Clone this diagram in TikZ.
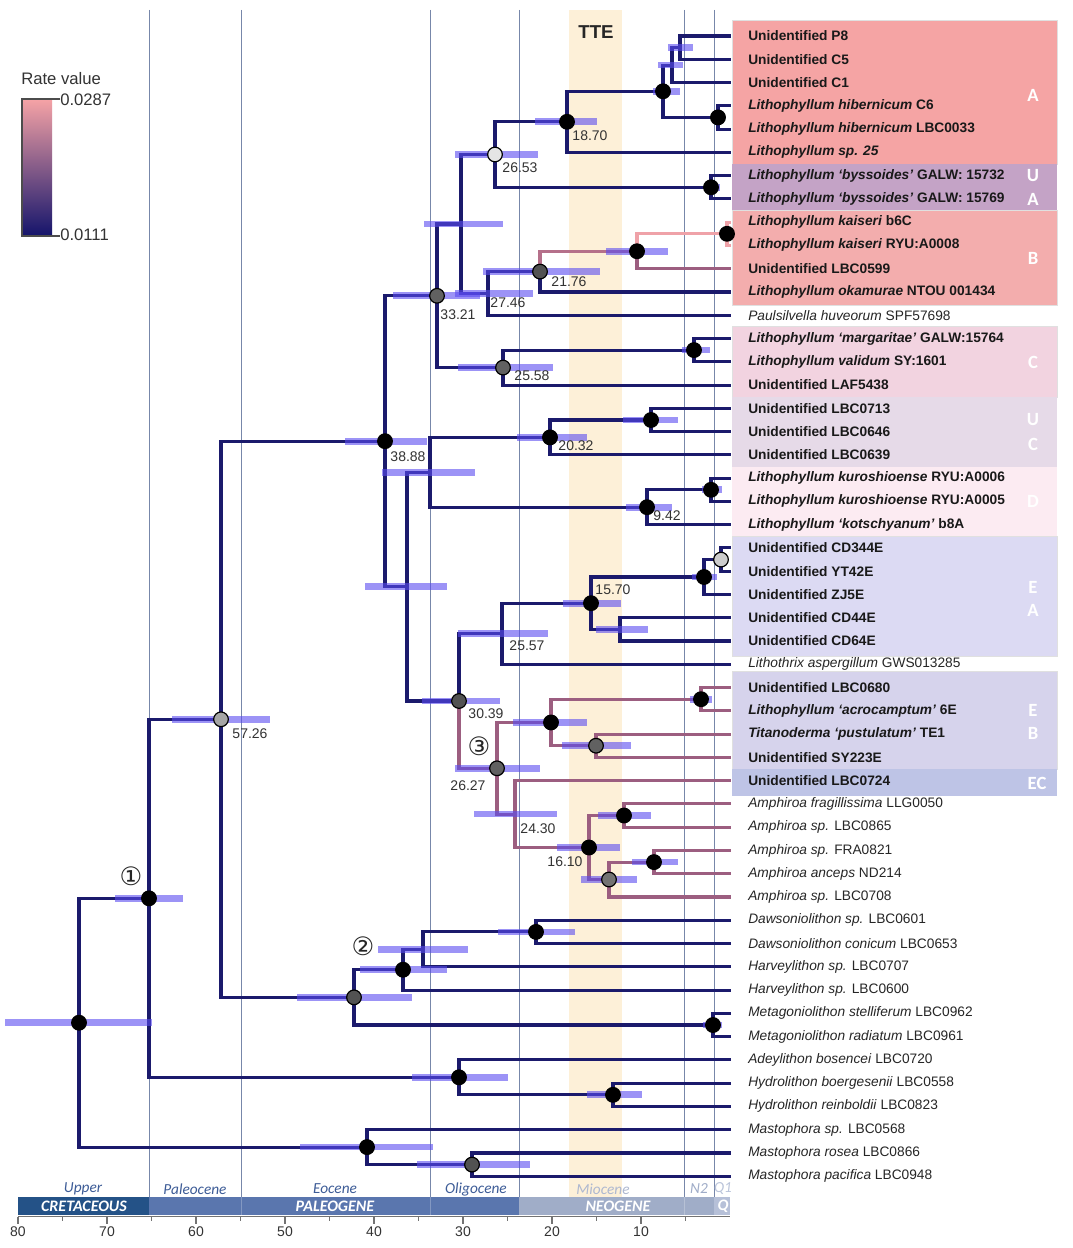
\documentclass[tikz,border=0pt]{standalone}
\usepackage{fontspec}
\setmainfont{Liberation Sans}
\newfontfamily\carl{Carlito}
\newfontfamily\dejavu{DejaVu Sans}
\definecolor{navy}{HTML}{1B1A6C}
\definecolor{mauve}{HTML}{9C5E80}
\definecolor{rosebr}{HTML}{B5708A}
\definecolor{pinkbr}{HTML}{EFA2A8}
\definecolor{hpdcol}{HTML}{5A4BF0}
\definecolor{boxA}{HTML}{F5A4A4}
\definecolor{boxUA}{HTML}{C4A3C6}
\definecolor{boxB}{HTML}{F3ADAD}
\definecolor{boxC}{HTML}{F2D3E0}
\definecolor{boxUC}{HTML}{E6DAE8}
\definecolor{boxD}{HTML}{FCEBF2}
\definecolor{boxEA}{HTML}{DCDAF3}
\definecolor{boxEB}{HTML}{D6D3EC}
\definecolor{boxEC}{HTML}{BEC4E6}
\definecolor{tte}{HTML}{FDF0D8}
\definecolor{epline}{HTML}{7787AA}
\definecolor{eptext}{HTML}{3D5C97}
\definecolor{cret}{HTML}{245287}
\definecolor{paleo}{HTML}{5A76AE}
\definecolor{neo}{HTML}{A0ADC8}
\definecolor{quat}{HTML}{B6C0D8}
\definecolor{gradtop}{HTML}{F6A3A6}
\definecolor{gradbot}{HTML}{14146B}
\newcommand\hpd[3]{\draw[hpdbar] (#2,0 |- #1) -- (#3,0 |- #1);}
\begin{document}
\begin{tikzpicture}[x=0.75pt,y=-0.75pt,
  br/.style={line width=2.3pt,draw=navy},
  brm/.style={line width=2.3pt,draw=mauve},
  brr/.style={line width=2.3pt,draw=rosebr},
  brp/.style={line width=2.3pt,draw=pinkbr},
  hpdbar/.style={line width=5pt,draw=hpdcol,draw opacity=0.6},
  nd/.style={circle,draw=black,line width=0.9pt,minimum size=11pt,inner sep=0pt,fill=#1},
  leafb/.style={anchor=west,inner sep=0pt,text=black!90,font=\bfseries\fontsize{10.3}{12}\selectfont},
  leafr/.style={anchor=west,inner sep=0pt,text=black!85,font=\fontsize{10.3}{12}\selectfont},
  agelab/.style={inner sep=0pt,text=black!80,font=\fontsize{10.5}{12}\selectfont},
  sidelab/.style={inner sep=0pt,text=white,font=\carl\bfseries\fontsize{14}{16}\selectfont},
  circnum/.style={inner sep=0pt,text=black!85,font=\dejavu\fontsize{19}{20}\selectfont},
  epochlab/.style={inner sep=0pt,font=\carl\itshape\fontsize{11.5}{12}\selectfont},
  perlab/.style={inner sep=0pt,text=white,font=\carl\bfseries\itshape\fontsize{12}{13}\selectfont},
  epl/.style={draw=epline,line width=0.7pt},
  boxfr/.style={draw=black!12,line width=0.4pt}
]
\useasboundingbox (0,0) rectangle (1072,1248);
\fill[white] (0,0) rectangle (1072,1248);

% TTE band and epoch lines
\fill[tte] (569,10) rectangle (622,1197);
\foreach \x in {149,241,430,519,684,714} \draw[epl] (\x,10) -- (\x,1197);
\node[inner sep=0pt,font=\bfseries\fontsize{14}{16}\selectfont,text=black!85] (ttelab) at (596,32) {TTE};

% clade boxes
\fill[boxA,boxfr] (732,20) rectangle (1057,164.5);
\fill[boxUA] (732,164.5) rectangle (1057,210.5);
\fill[boxB,boxfr] (732,210.5) rectangle (1057,305);
\fill[boxC,boxfr] (732,326) rectangle (1057,397);
\fill[boxUC] (732,397) rectangle (1057,466.5);
\fill[boxD] (732,466.5) rectangle (1057,536.5);
\fill[boxEA,boxfr] (732,536.5) rectangle (1057,656);
\fill[boxEB,boxfr] (732,671) rectangle (1057,769);
\fill[boxEC] (732,769) rectangle (1057,796);
\node[sidelab] (sA) at (1033,95) {A};
\node[sidelab] (sU1) at (1033,176) {U};
\node[sidelab] (sA2) at (1033,199) {A};
\node[sidelab] (sB) at (1033,258) {B};
\node[sidelab] (sC) at (1033,362) {C};
\node[sidelab] (sU2) at (1033,420) {U};
\node[sidelab] (sC2) at (1033,444) {C};
\node[sidelab] (sD) at (1033,501) {D};
\node[sidelab] (sE1) at (1033,587) {E};
\node[sidelab] (sA3) at (1033,610) {A};
\node[sidelab] (sE2) at (1033,710) {E};
\node[sidelab] (sB2) at (1033,733) {B};
\node[sidelab] (sEC) at (1037,783) {EC};

% tips
\foreach \i in {0,...,49} \coordinate (t\i) at (731,36+23.27*\i);

% internal nodes
\coordinate (a1) at (680,47.6);
\coordinate (a2) at (672,65.1);
\coordinate (a3) at (718,117.4);
\coordinate (a4) at (663,91.3);
\coordinate (a5) at (567,121.8);
\coordinate (a6) at (711,187.3);
\coordinate (a7) at (495,154.5);
\coordinate (b1) at (727,233.8);
\coordinate (b2) at (637,251.25);
\coordinate (b3) at (540,271.6);
\coordinate (b4) at (488,293.4);
\coordinate (b5) at (461,224);
\coordinate (c1) at (694,350.1);
\coordinate (c2) at (503,367.6);
\coordinate (c3) at (437,295.8);
\coordinate (d1) at (651,420);
\coordinate (d2) at (550,437.4);
\coordinate (d3) at (711,489.8);
\coordinate (d4) at (647,507.2);
\coordinate (d5) at (430,472.3);
\coordinate (d6) at (407,586.6);
\coordinate (h0) at (385,441.2);
\coordinate (e1) at (721,559.6);
\coordinate (e2) at (704,577);
\coordinate (e3) at (620,629.4);
\coordinate (e4) at (591,603.2);
\coordinate (e5) at (502,633.7);
\coordinate (f1) at (701,699.2);
\coordinate (f2) at (596,745.7);
\coordinate (f3) at (551,722.45);
\coordinate (g1) at (624,815.5);
\coordinate (g2) at (654,862.1);
\coordinate (g3) at (609,879.5);
\coordinate (g4) at (589,847.5);
\coordinate (g5) at (515,814.1);
\coordinate (f4) at (497,768.3);
\coordinate (f5) at (459,701);
\coordinate (i1) at (536,931.9);
\coordinate (i2) at (423,949.35);
\coordinate (i3) at (403,969.7);
\coordinate (i4) at (713,1025);
\coordinate (i5) at (354,997.35);
\coordinate (j0) at (221,719.3);
\coordinate (k1) at (613,1094.8);
\coordinate (k2) at (459,1077.3);
\coordinate (n1) at (149,898.3);
\coordinate (m1) at (472,1164.6);
\coordinate (m2) at (367,1147.1);
\coordinate (root) at (79,1022.7);

% navy branches
\draw[br] (a1) |- (t0);  \draw[br] (a1) |- (t1);
\draw[br] (a2) |- (a1);  \draw[br] (a2) |- (t2);
\draw[br] (a3) |- (t3);  \draw[br] (a3) |- (t4);
\draw[br] (a4) |- (a2);  \draw[br] (a4) |- (a3);
\draw[br] (a5) |- (a4);  \draw[br] (a5) |- (t5);
\draw[br] (a6) |- (t6);  \draw[br] (a6) |- (t7);
\draw[br] (a7) |- (a5);  \draw[br] (a7) |- (a6);
\draw[br] (b5) |- (a7);  \draw[br] (b5) |- (b4);
\draw[br] (b4) |- (b3);  \draw[br] (b4) |- (t12);
\draw[br] (b3) |- (t11);
\draw[brr] (b3) |- (b2);
\draw[brp] (b2) |- (b1);
\draw[brm] (b2) |- (t10);
\draw[brp] (b1) |- (t8); \draw[brp] (b1) |- (t9);
\draw[br] (c3) |- (b5);  \draw[br] (c3) |- (c2);
\draw[br] (c2) |- (c1);  \draw[br] (c2) |- (t15);
\draw[br] (c1) |- (t13); \draw[br] (c1) |- (t14);
\draw[br] (h0) |- (c3);  \draw[br] (h0) |- (d6);
\draw[br] (d6) |- (d5);  \draw[br] (d6) |- (f5);
\draw[br] (d5) |- (d2);  \draw[br] (d5) |- (d4);
\draw[br] (d2) |- (d1);  \draw[br] (d2) |- (t18);
\draw[br] (d1) |- (t16); \draw[br] (d1) |- (t17);
\draw[br] (d4) |- (d3);  \draw[br] (d4) |- (t21);
\draw[br] (d3) |- (t19); \draw[br] (d3) |- (t20);
\draw[br] (f5) |- (e5);
\draw[br] (e5) |- (e4);  \draw[br] (e5) |- (t27);
\draw[br] (e4) |- (e2);  \draw[br] (e4) |- (e3);
\draw[br] (e2) |- (e1);  \draw[br] (e2) |- (t24);
\draw[br] (e1) |- (t22); \draw[br] (e1) |- (t23);
\draw[br] (e3) |- (t25); \draw[br] (e3) |- (t26);
% mauve clade
\draw[brm] (f5) |- (f4);
\draw[brm] (f4) |- (f3);  \draw[brm] (f4) |- (g5);
\draw[brm] (f3) |- (f1);  \draw[brm] (f3) |- (f2);
\draw[brm] (f1) |- (t28); \draw[brm] (f1) |- (t29);
\draw[brm] (f2) |- (t30); \draw[brm] (f2) |- (t31);
\draw[brm] (g5) |- (t32); \draw[brm] (g5) |- (g4);
\draw[brm] (g4) |- (g1);  \draw[brm] (g4) |- (g3);
\draw[brm] (g1) |- (t33); \draw[brm] (g1) |- (t34);
\draw[brm] (g3) |- (g2);  \draw[brm] (g3) |- (t37);
\draw[brm] (g2) |- (t35); \draw[brm] (g2) |- (t36);
% lower part
\draw[br] (j0) |- (h0);  \draw[br] (j0) |- (i5);
\draw[br] (i5) |- (i3);  \draw[br] (i5) |- (i4);
\draw[br] (i3) |- (i2);  \draw[br] (i3) |- (t41);
\draw[br] (i2) |- (i1);  \draw[br] (i2) |- (t40);
\draw[br] (i1) |- (t38); \draw[br] (i1) |- (t39);
\draw[br] (i4) |- (t42); \draw[br] (i4) |- (t43);
\draw[br] (n1) |- (j0);  \draw[br] (n1) |- (k2);
\draw[br] (k2) |- (t44); \draw[br] (k2) |- (k1);
\draw[br] (k1) |- (t45); \draw[br] (k1) |- (t46);
\draw[br] (root) |- (n1); \draw[br] (root) |- (m2);
\draw[br] (m2) |- (t47); \draw[br] (m2) |- (m1);
\draw[br] (m1) |- (t48); \draw[br] (m1) |- (t49);

% HPD bars
\hpd{root}{5}{152}
\hpd{n1}{115}{183}
\hpd{j0}{172}{270}
\hpd{h0}{345}{427}
\hpd{c3}{393}{480}
\hpd{b5}{424}{503}
\hpd{a7}{455}{538}
\hpd{a5}{535}{597}
\hpd{a4}{653}{680}
\hpd{a2}{658}{683}
\hpd{a1}{668}{693}
\hpd{a6}{704}{720}
\hpd{b4}{455}{533}
\hpd{b3}{483}{600}
\hpd{b2}{606}{668}
\hpd{c2}{458}{553}
\hpd{c1}{682}{710}
\hpd{d6}{365}{447}
\hpd{d5}{382}{475}
\hpd{d2}{517}{587}
\hpd{d1}{623}{678}
\hpd{d4}{626}{672}
\hpd{d3}{702}{722}
\hpd{f5}{422}{500}
\hpd{e5}{458}{548}
\hpd{e4}{563}{621}
\hpd{e2}{692}{717}
\hpd{e3}{596}{648}
\hpd{f4}{455}{540}
\hpd{f3}{513}{587}
\hpd{f1}{690}{712}
\hpd{f2}{562}{631}
\hpd{g5}{474}{557}
\hpd{g4}{557}{620}
\hpd{g1}{598}{651}
\hpd{g3}{581}{637}
\hpd{g2}{632}{678}
\hpd{i5}{297}{412}
\hpd{i3}{360}{447}
\hpd{i2}{378}{468}
\hpd{i1}{498}{575}
\hpd{i4}{703}{722}
\hpd{k2}{412}{508}
\hpd{k1}{587}{642}
\hpd{m2}{300}{433}
\hpd{m1}{417}{530}

% node circles
\foreach \c in {root,n1,h0,a5,a4,a3,a6,b2,b1,c1,d1,d2,d3,d4,e2,e4,f1,f3,g1,g4,g2,i3,i1,i4,k2,k1,m2}
  \node[nd=black] (o-\c) at (\c) {};
\node[nd=black!62] (o-c3) at (c3) {};
\node[nd=black!68] (o-b3) at (b3) {};
\node[nd=black!62] (o-c2) at (c2) {};
\node[nd=black!68] (o-f5) at (f5) {};
\node[nd=black!62] (o-f4) at (f4) {};
\node[nd=black!62] (o-f2) at (f2) {};
\node[nd=black!55] (o-g3) at (g3) {};
\node[nd=black!68] (o-i5) at (i5) {};
\node[nd=black!68] (o-m1) at (m1) {};
\node[nd=black!35] (o-j0) at (j0) {};
\node[nd=black!10] (o-a7) at (a7) {};
\node[nd=black!20] (o-e1) at (e1) {};

% age labels
\node[agelab] (L5726) at (250,734) {57.26};
\node[agelab] (L3888) at (408,457) {38.88};
\node[agelab] (L3321) at (458,315) {33.21};
\node[agelab] (L2746) at (508,303) {27.46};
\node[agelab] (L2176) at (569,282) {21.76};
\node[agelab] (L2653) at (520,168) {26.53};
\node[agelab] (L1870) at (590,136) {18.70};
\node[agelab] (L2558) at (532,376) {25.58};
\node[agelab] (L2032) at (576,446) {20.32};
\node[agelab] (L942) at (667,516) {9.42};
\node[agelab] (L1570) at (613,590) {15.70};
\node[agelab] (L2557) at (527,646) {25.57};
\node[agelab] (L3039) at (486,714) {30.39};
\node[agelab] (L2627) at (468,786) {26.27};
\node[agelab] (L2430) at (538,829) {24.30};
\node[agelab] (L1610) at (565,862) {16.10};
\node[circnum] (cn1) at (131,876) {①};
\node[circnum] (cn2) at (363,946) {②};
\node[circnum] (cn3) at (479,746) {③};

% leaf labels
\foreach \i/\txt in {
 0/Unidentified P8,
 1/Unidentified C5,
 2/Unidentified C1,
 3/\textit{Lithophyllum hibernicum} C6,
 4/\textit{Lithophyllum hibernicum} LBC0033,
 5/\textit{Lithophyllum sp. 25},
 6/\textit{Lithophyllum ‘byssoides’} GALW: 15732,
 7/\textit{Lithophyllum ‘byssoides’} GALW: 15769,
 8/\textit{Lithophyllum kaiseri} b6C,
 9/\textit{Lithophyllum kaiseri} RYU:A0008,
 10/Unidentified LBC0599,
 11/\textit{Lithophyllum okamurae} NTOU 001434,
 13/\textit{Lithophyllum ‘margaritae’} GALW:15764,
 14/\textit{Lithophyllum validum} SY:1601,
 15/Unidentified LAF5438,
 16/Unidentified LBC0713,
 17/Unidentified LBC0646,
 18/Unidentified LBC0639,
 19/\textit{Lithophyllum kuroshioense} RYU:A0006,
 20/\textit{Lithophyllum kuroshioense} RYU:A0005,
 21/\textit{Lithophyllum ‘kotschyanum’} b8A,
 22/Unidentified CD344E,
 23/Unidentified YT42E,
 24/Unidentified ZJ5E,
 25/Unidentified CD44E,
 26/Unidentified CD64E,
 28/Unidentified LBC0680,
 29/\textit{Lithophyllum ‘acrocamptum’} 6E,
 30/\textit{Titanoderma ‘pustulatum’} TE1,
 31/Unidentified SY223E,
 32/Unidentified LBC0724}
 \node[leafb] (l\i) at (748,36+23.27*\i) {\txt};
\foreach \i/\txt in {
 12/\textit{Paulsilvella huveorum} SPF57698,
 27/\textit{Lithothrix aspergillum} GWS013285,
 33/\textit{Amphiroa fragillissima} LLG0050,
 34/\textit{Amphiroa sp.} LBC0865,
 35/\textit{Amphiroa sp.} FRA0821,
 36/\textit{Amphiroa anceps} ND214,
 37/\textit{Amphiroa sp.} LBC0708,
 38/\textit{Dawsoniolithon sp.} LBC0601,
 39/\textit{Dawsoniolithon conicum} LBC0653,
 40/\textit{Harveylithon sp.} LBC0707,
 41/\textit{Harveylithon sp.} LBC0600,
 42/\textit{Metagoniolithon stelliferum} LBC0962,
 43/\textit{Metagoniolithon radiatum} LBC0961,
 44/\textit{Adeylithon bosencei} LBC0720,
 45/\textit{Hydrolithon boergesenii} LBC0558,
 46/\textit{Hydrolithon reinboldii} LBC0823,
 47/\textit{Mastophora sp.} LBC0568,
 48/\textit{Mastophora rosea} LBC0866,
 49/\textit{Mastophora pacifica} LBC0948}
 \node[leafr] (l\i) at (748,36+23.27*\i) {\txt};

% legend
\node[anchor=west,inner sep=0pt,text=black!80,font=\fontsize{12.5}{14}\selectfont] (rv) at (21,79) {Rate value};
\shade[top color=gradtop,bottom color=gradbot] (22,99) rectangle (52,236);
\draw[black!70,line width=0.8pt] (60,99) -- (22,99) -- (22,236) -- (60,236);
\node[anchor=west,inner sep=0pt,text=black!80,font=\fontsize{12.5}{14}\selectfont] (rmax) at (60,100) {0.0287};
\node[anchor=west,inner sep=0pt,text=black!80,font=\fontsize{12.5}{14}\selectfont] (rmin) at (60,235) {0.0111};

% time scale
\node[epochlab,text=eptext] (epU) at (83,1189) {Upper};
\node[epochlab,text=eptext] (epP) at (195,1189) {Paleocene};
\node[epochlab,text=eptext] (epE) at (335,1189) {Eocene};
\node[epochlab,text=eptext] (epO) at (476,1189) {Oligocene};
\node[epochlab,text={rgb,255:red,174;green,184;blue,208}] (epM) at (603,1189) {Miocene};
\node[epochlab,text={rgb,255:red,159;green,172;blue,200}] (epN) at (699,1189) {N2};
\node[epochlab,text={rgb,255:red,186;green,196;blue,218}] (epQ) at (723,1189) {Q1};
\fill[cret] (18,1197) rectangle (149,1215);
\fill[paleo] (149,1197) rectangle (519,1215);
\fill[neo] (519,1197) rectangle (714,1215);
\fill[quat] (714,1197) rectangle (730,1215);
\foreach \x in {241,430,684} \draw[white,opacity=0.25,line width=0.5pt] (\x,1197) -- (\x,1215);
\node[perlab] (pC) at (84,1206) {CRETACEOUS};
\node[perlab] (pP) at (335,1206) {PALEOGENE};
\node[perlab] (pN) at (618,1206) {NEOGENE};
\node[perlab] (pQ) at (723,1206) {Q};
\draw[black!55,line width=0.8pt] (18,1216.5) -- (730,1216.5);
\foreach \t in {10,20,...,80} \draw[black!55,line width=0.8pt] ({730-8.9*\t},1216.5) -- ++(0,7);
\foreach \t in {5,15,...,75} \draw[black!55,line width=0.8pt] ({730-8.9*\t},1216.5) -- ++(0,4);
\foreach \t in {10,20,...,80} \node[inner sep=0pt,text=black!80,font=\fontsize{10.5}{12}\selectfont] (ax\t) at ({730-8.9*\t},1232) {\t};
\end{tikzpicture}
\end{document}
